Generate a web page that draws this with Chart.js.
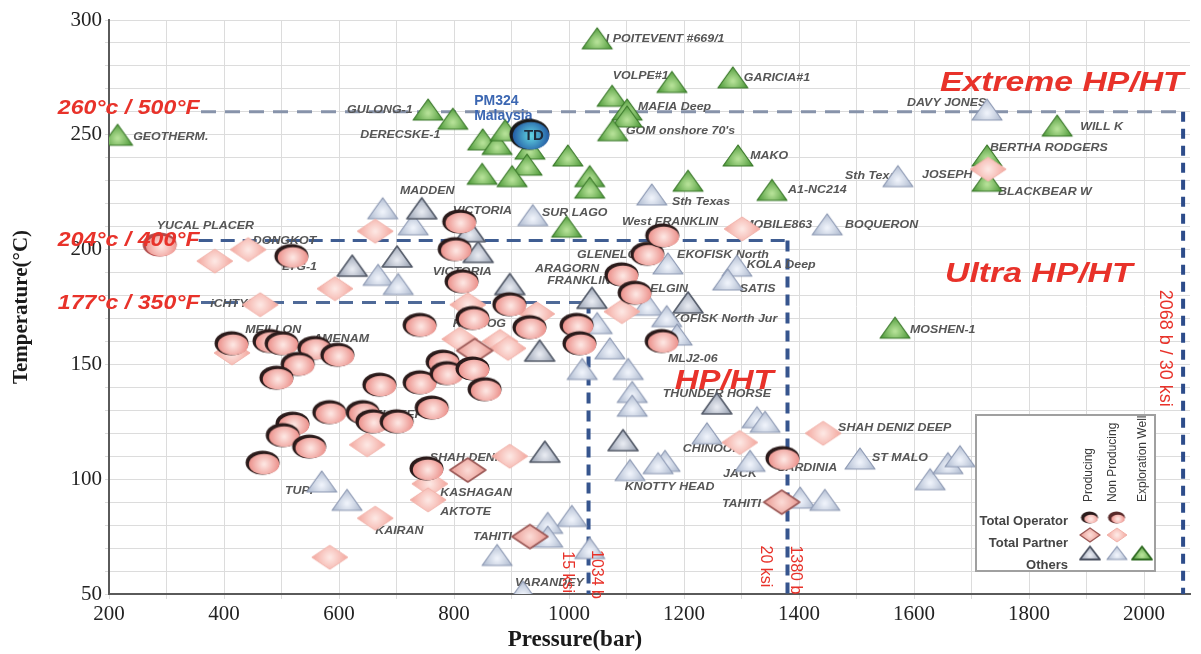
<!DOCTYPE html>
<html>
<head>
<meta charset="utf-8">
<title>HP/HT wells – pressure vs temperature</title>
<script src="https://cdn.jsdelivr.net/npm/chart.js@4/dist/chart.umd.min.js"></script>
<style>
  html, body { margin: 0; padding: 0; background: #fff; }
  #chart { display: block; }
</style>
</head>
<body>
<canvas id="chart" width="1201" height="654"></canvas>
<script>
// pressure (bar) / temperature (degC)

// Total operator wells (circles)
const opProdP = [518, 810, 802, 814, 741, 833, 414, 480, 501, 558, 598, 529, 492, 671, 741, 781, 788, 833, 854, 762, 584, 642, 659, 701, 520, 503, 549, 468, 753, 897, 932, 1014, 1019, 1092, 1115, 1137, 1163, 1162, 1372];
const opProdT = [197, 212, 200, 186, 167, 170, 159, 160, 159, 157, 154, 150, 144, 141, 142, 151, 146, 148, 139, 131, 129, 129, 125, 125, 124, 119, 114, 107, 104.5, 176, 166, 167, 159, 189, 181, 198, 206, 160, 109];
const opNonP = [289];
const opNonT = [202];

// Total partner wells (diamonds)
const partProdP = [836, 824, 932, 1370];
const partProdT = [156, 104, 75, 90];
const partNonP = [384, 442, 593, 663, 463, 414, 824, 810, 944, 880, 894, 1092, 649, 758, 755, 663, 584, 897, 1297, 1442, 1729, 1301];
const partNonT = [195, 200, 183, 208, 176, 155, 176, 161, 172, 160, 157, 173, 115, 98, 91, 83, 66, 110, 116, 120, 235, 209];

// Other operators (triangles)
const othProdP = [623, 701, 842, 897, 1040, 949, 1207, 1257, 1094, 958, 744, 828];
const othProdT = [193, 197, 199, 185, 179, 156, 177, 133, 117, 112, 218, 208];
const othNonP = [1144, 1572, 1727, 1449, 937, 676, 729, 668, 703, 1172, 1292, 1276, 1137, 1049, 1170, 1188, 1071, 1023, 1103, 1110, 1110, 1327, 1341, 1240, 1106, 1167, 1155, 1315, 1402, 1445, 1005, 963, 963, 875, 1036, 920, 1506, 1628, 1659, 1680, 570, 614];
const othNonT = [224, 232, 261, 211, 215, 218, 211, 189, 185, 194, 193, 187, 176, 168, 171, 163, 157, 148, 148, 138, 132, 127, 125, 120, 104, 108, 107, 108, 92, 91, 84, 81, 75, 67, 70, 51, 109, 100, 107, 110, 99, 91];

// Exploration wells (green triangles)
const explP = [215, 755, 798, 850, 875, 889, 932, 927, 849, 901, 998, 1036, 1036, 996, 1207, 1075, 1101, 1101, 1076, 1049, 1179, 1285, 1294, 1353, 1849, 1727, 1727, 1567];
const explT = [250, 261, 257, 248, 246, 252, 244, 237, 233, 232, 241, 232, 227, 210, 230, 267, 261, 258, 252, 292, 273, 275, 241, 226, 254, 241, 230, 166];

// PM324 Malaysia (TD)
const pmP = [932];
const pmT = [250];

// HP/HT limits
const limitP = [1034, 1380, 2068];
const limitT = [177, 204, 260];

// well names and where each label starts
const wellNames = ["GEOTHERM.", "GULONG-1", "DERECSKE-1", "I POITEVENT #669/1", "VOLPE#1", "GARICIA#1", "MAFIA Deep", "GOM onshore 70's", "MAKO", "A1-NC214", "Sth Texas", "Sth Texas", "JOSEPH", "BERTHA RODGERS", "BLACKBEAR W", "WILL K", "DAVY JONES", "BOQUERON", "MADDEN", "VICTORIA", "SUR LAGO", "West FRANKLIN", "MOBILE863", "YUCAL PLACER", "DONGKOT", "LTG-1", "VICTORIA", "iCHTYS", "MEILLON", "AMENAM", "KESSOG", "GLENELG", "ARAGORN", "FRANKLIN", "EKOFISK North", "KOLA Deep", "SATIS", "ELGIN", "EKOFISK North Jur", "MLJ2-06", "THUNDER HORSE", "MOSHEN-1", "LAFI DEEP", "SHAH DENIZ", "KASHAGAN", "AKTOTE", "KAIRAN", "TUPI", "TAHITI", "VARANDEY", "KNOTTY HEAD", "CHINOOK", "JACK", "SARDINIA", "TAHITI", "SHAH DENIZ DEEP", "ST MALO"];
const nameP = [242, 614, 637, 1064, 1076, 1304, 1120, 1099, 1315, 1381, 1179, 1480, 1614, 1732, 1746, 1889, 1588, 1480, 706, 798, 953, 1092, 1303, 283, 450, 501, 763, 376, 437, 555, 798, 1014, 941, 962, 1188, 1309, 1297, 1141, 1163, 1172, 1163, 1593, 633, 758, 776, 776, 663, 506, 833, 906, 1097, 1198, 1268, 1362, 1266, 1468, 1527];
const nameT = [249, 261, 250, 292, 275.5, 274.7, 262, 251.7, 241, 226.2, 220.6, 232.3, 232.7, 244.4, 225.3, 253.5, 263.9, 210.6, 225.8, 217.1, 216.2, 212, 211, 210.2, 203.7, 192.4, 190.3, 176.4, 165.2, 161.3, 167.7, 197.6, 191.6, 186.4, 197.6, 193.3, 182.9, 182.9, 169.9, 152.6, 137.4, 165.2, 128, 109.3, 94.2, 86, 77.7, 95, 74.7, 54.8, 96.8, 113.2, 102.4, 105, 89.4, 122.3, 109.3];

// ---- marker sprites ----
function ballSprite(w, h, core, rim, shadow) {
  const cv = document.createElement("canvas");
  cv.width = w + 4; cv.height = h + 4;
  const g = cv.getContext("2d");
  const cx = cv.width / 2, cy = cv.height / 2;
  g.fillStyle = shadow;
  g.beginPath(); g.ellipse(cx - 0.5, cy - 0.5, w / 2, h / 2, 0, 0, Math.PI * 2); g.fill();
  const grad = g.createRadialGradient(cx + 1, cy + 1, 1, cx + 1, cy + 1, w / 2);
  grad.addColorStop(0, core); grad.addColorStop(1, rim);
  g.fillStyle = grad;
  g.beginPath(); g.ellipse(cx + 1, cy + 1, w / 2 - 1.8, h / 2 - 1.8, 0, 0, Math.PI * 2); g.fill();
  return cv;
}

function polySprite(shape, w, h, core, rim, edge, lw) {
  const cv = document.createElement("canvas");
  cv.width = w + 4; cv.height = h + 4;
  const g = cv.getContext("2d");
  const cx = cv.width / 2, cy = cv.height / 2;
  g.beginPath();
  if (shape === "diamond") {
    g.moveTo(cx, cy - h / 2); g.lineTo(cx + w / 2, cy); g.lineTo(cx, cy + h / 2); g.lineTo(cx - w / 2, cy);
  } else {
    g.moveTo(cx, cy - h / 2); g.lineTo(cx + w / 2, cy + h / 2); g.lineTo(cx - w / 2, cy + h / 2);
  }
  g.closePath();
  const gy = shape === "diamond" ? cy : cy + h / 6;
  const grad = g.createRadialGradient(cx, gy, 1, cx, gy, w / 2);
  grad.addColorStop(0, core); grad.addColorStop(1, rim);
  g.fillStyle = grad; g.fill();
  g.lineWidth = lw; g.strokeStyle = edge; g.lineJoin = "round"; g.stroke();
  return cv;
}

const sp = {
  opProd: ballSprite(34, 24, "#fde4e0", "#ea8680", "#2b1b1b"),
  opNon: ballSprite(34, 24, "#fde4e0", "#ee8e88", "#b04a4a"),
  partProd: polySprite("diamond", 36, 24, "#fbd9d4", "#e8968e", "#9c5a58", 1.6),
  partNon: polySprite("diamond", 36, 24, "#fde6e2", "#f3a59c", "#f1b2aa", 1),
  othProd: polySprite("tri", 30, 21, "#e6e9f0", "#98a1b2", "#555c6a", 1.6),
  othNon: polySprite("tri", 30, 21, "#eef2fa", "#afbbd0", "#8d99b3", 1.2),
  expl: polySprite("tri", 30, 21, "#b4e096", "#4e9a3a", "#3a782a", 1.2),
  pm: ballSprite(40, 31, "#5fd0e0", "#1d4f9e", "#1a1a1a"),
  // legend sizes
  lOpProd: ballSprite(17, 12, "#fde4e0", "#ec8a84", "#2b1b1b"),
  lOpNon: ballSprite(17, 12, "#fde4e0", "#ee7a74", "#5a2a2a"),
  lPartProd: polySprite("diamond", 20, 14, "#fbd9d4", "#e8968e", "#9c5a58", 1.4),
  lPartNon: polySprite("diamond", 20, 14, "#fde6e2", "#f3a59c", "#f1b2aa", 1),
  lOthProd: polySprite("tri", 20, 13, "#e6e9f0", "#98a1b2", "#4a5160", 1.8),
  lOthNon: polySprite("tri", 20, 13, "#eef2fa", "#afbbd0", "#8d99b3", 1.2),
  lExpl: polySprite("tri", 20, 13, "#b4e096", "#4e9a3a", "#2f6a22", 1.8),
};

function pts(px, ty) {
  return px.map((p, i) => ({ x: p, y: ty[i] }));
}

function ds(label, px, ty, sprite) {
  return { label, data: pts(px, ty), pointStyle: sprite, pointRadius: 10, showLine: false };
}

const RED = "#e8322a";

// the source figure's lettering is a little wider than these fonts
function wideText(ctx, txt, px, py, sx) {
  ctx.save();
  ctx.translate(px, py);
  ctx.scale(sx, 1);
  ctx.fillText(txt, 0, 0);
  ctx.restore();
}

const annotations = {
  id: "annotations",
  beforeDatasetsDraw(chart) {
    const { ctx } = chart;
    const x = chart.scales.x, y = chart.scales.y;
    ctx.save();
    const line = (p1, t1, p2, t2, color, width, dash) => {
      ctx.beginPath();
      ctx.strokeStyle = color; ctx.lineWidth = width; ctx.setLineDash(dash);
      ctx.moveTo(x.getPixelForValue(p1), y.getPixelForValue(t1));
      ctx.lineTo(x.getPixelForValue(p2), y.getPixelForValue(t2));
      ctx.stroke();
    };
    line(360, limitT[2], limitP[2], limitT[2], "#8793aa", 3, [15, 9]);
    line(356, limitT[1], limitP[1], limitT[1], "#3f5d92", 3, [14, 8]);
    line(360, limitT[0], limitP[0], limitT[0], "#4f6a98", 3, [14, 9]);
    line(limitP[0], limitT[0], limitP[0], 50, "#36558e", 4, [11, 7]);
    line(limitP[1], limitT[1], limitP[1], 50, "#36558e", 4, [11, 7]);
    line(limitP[2], limitT[2], limitP[2], 50, "#2d4c8a", 4, [10, 7]);
    ctx.setLineDash([]);

    ctx.font = 'italic bold 11.5px "Liberation Sans", Arial, sans-serif';
    ctx.fillStyle = "#565656";
    ctx.textBaseline = "middle";
    ctx.textAlign = "left";
    wellNames.forEach((n, i) => {
      wideText(ctx, n, x.getPixelForValue(nameP[i]), y.getPixelForValue(nameT[i]), 1.08);
    });

    ctx.font = 'bold 14px "Liberation Sans", Arial, sans-serif';
    ctx.fillStyle = "#3c67b2";
    ctx.fillText("PM324", x.getPixelForValue(835), y.getPixelForValue(264.7));
    ctx.fillText("Malaysia", x.getPixelForValue(835), y.getPixelForValue(258.2));
    ctx.restore();
  },
  afterDatasetsDraw(chart) {
    const { ctx, chartArea } = chart;
    const x = chart.scales.x, y = chart.scales.y;
    ctx.save();
    ctx.textBaseline = "middle";
    ctx.textAlign = "left";

    // TD on the PM324 marker
    ctx.font = 'bold 15px "Liberation Sans", Arial, sans-serif';
    ctx.fillStyle = "#1e2a3a";
    ctx.fillText("TD", x.getPixelForValue(pmP[0]) - 6, y.getPixelForValue(pmT[0]) + 1);

    ctx.fillStyle = RED;
    ctx.font = 'italic bold 21px "Liberation Sans", Arial, sans-serif';
    wideText(ctx, "260°c / 500°F", x.getPixelForValue(111), y.getPixelForValue(261.5), 1.1);
    wideText(ctx, "204°c / 400°F", x.getPixelForValue(111), y.getPixelForValue(204.3), 1.1);
    wideText(ctx, "177°c / 350°F", x.getPixelForValue(111), y.getPixelForValue(176.6), 1.1);

    ctx.font = 'italic bold 27px "Liberation Sans", Arial, sans-serif';
    wideText(ctx, "Extreme HP/HT", x.getPixelForValue(1645), y.getPixelForValue(272.5), 1.25);
    wideText(ctx, "Ultra HP/HT", x.getPixelForValue(1654), y.getPixelForValue(189), 1.25);
    wideText(ctx, "HP/HT", x.getPixelForValue(1184), y.getPixelForValue(142.6), 1.22);

    const vtext = (txt, p, t) => {
      ctx.save();
      ctx.translate(x.getPixelForValue(p), y.getPixelForValue(t));
      ctx.rotate(Math.PI / 2);
      ctx.textAlign = "center";
      ctx.fillText(txt, 0, 0);
      ctx.restore();
    };
    ctx.font = '18px "Liberation Sans", Arial, sans-serif';
    vtext("2068 b / 30 ksi", 2036, 157);
    ctx.font = '16px "Liberation Sans", Arial, sans-serif';
    vtext("1034 b", 1047, 58.5);
    vtext("15 ksi", 998, 59.5);
    vtext("1380 b", 1393, 60.5);
    vtext("20 ksi", 1341, 62);

    // legend box
    const bx = chartArea.right - 214, by = chartArea.bottom - 179, bw = 179, bh = 156;
    ctx.fillStyle = "#fff";
    ctx.fillRect(bx, by, bw, bh);
    ctx.strokeStyle = "#a0a0a0"; ctx.lineWidth = 2;
    ctx.strokeRect(bx, by, bw, bh);

    ctx.fillStyle = "#3a3a3a";
    ctx.font = '12px "Liberation Sans", Arial, sans-serif';
    const head = (txt, ox) => {
      ctx.save();
      ctx.translate(bx + ox, by + 87);
      ctx.rotate(-Math.PI / 2);
      ctx.textAlign = "left";
      ctx.fillText(txt, 0, 0);
      ctx.restore();
    };
    head("Producing", 113);
    head("Non Producing", 137);
    head("Exploration Well", 167);

    ctx.font = 'bold 13px "Liberation Sans", Arial, sans-serif';
    ctx.fillStyle = "#444";
    ctx.textAlign = "right";
    ctx.fillText("Total Operator", bx + 92, by + 106);
    ctx.fillText("Total Partner", bx + 92, by + 128);
    ctx.fillText("Others", bx + 92, by + 150);

    const icon = (img, ox, oy) => ctx.drawImage(img, bx + ox - img.width / 2, by + oy - img.height / 2);
    icon(sp.lOpProd, 114, 103);
    icon(sp.lOpNon, 141, 103);
    icon(sp.lPartProd, 114, 120);
    icon(sp.lPartNon, 141, 120);
    icon(sp.lOthProd, 114, 138);
    icon(sp.lOthNon, 141, 138);
    icon(sp.lExpl, 166, 138);

    // x axis title
    ctx.textAlign = "center";
    ctx.fillStyle = "#1a1a1a";
    ctx.font = 'bold 23px "Liberation Serif", "Times New Roman", serif';
    ctx.fillText("Pressure(bar)", 575, 640);
    ctx.restore();
  }
};

new Chart(document.getElementById("chart"), {
  type: "scatter",
  data: {
    datasets: [
      ds("PM324 Malaysia", pmP, pmT, sp.pm),
      ds("Total Operator - Producing", opProdP, opProdT, sp.opProd),
      ds("Total Operator - Non Producing", opNonP, opNonT, sp.opNon),
      ds("Total Partner - Producing", partProdP, partProdT, sp.partProd),
      ds("Total Partner - Non Producing", partNonP, partNonT, sp.partNon),
      ds("Others - Producing", othProdP, othProdT, sp.othProd),
      ds("Others - Non Producing", othNonP, othNonT, sp.othNon),
      ds("Exploration Well", explP, explT, sp.expl),
    ],
  },
  options: {
    responsive: false,
    animation: false,
    events: [],
    layout: { padding: { top: 20, right: 11, left: 0, bottom: 0 } },
    plugins: { legend: { display: false }, tooltip: { enabled: false } },
    scales: {
      x: {
        type: "linear",
        min: 200,
        max: 2080,
        afterFit: (s) => { s.height = 60; },
        ticks: {
          stepSize: 100,
          includeBounds: false,
          autoSkip: false,
          maxRotation: 0,
          padding: 3,
          color: "#222",
          font: { family: "Liberation Serif", size: 21 },
          callback: (v) => (v % 200 === 0 ? v : ""),
        },
        grid: { color: "#dcdcdc", lineWidth: 1, tickLength: 5 },
        border: { color: "#5a5a5a", width: 2 },
      },
      y: {
        min: 50,
        max: 300,
        afterFit: (s) => { s.width = 109; },
        ticks: {
          stepSize: 10,
          includeBounds: false,
          autoSkip: false,
          padding: 3,
          color: "#222",
          font: { family: "Liberation Serif", size: 21 },
          callback: (v) => (v % 50 === 0 ? v : ""),
        },
        grid: { color: "#dcdcdc", lineWidth: 1, tickLength: 4 },
        border: { color: "#5a5a5a", width: 2 },
        title: {
          display: true,
          text: "Temperature(°C)",
          color: "#1a1a1a",
          font: { family: "Liberation Serif", size: 21, weight: "bold" },
          padding: { top: 9, bottom: 0 },
        },
      },
    },
  },
  plugins: [annotations],
});
</script>
</body>
</html>
